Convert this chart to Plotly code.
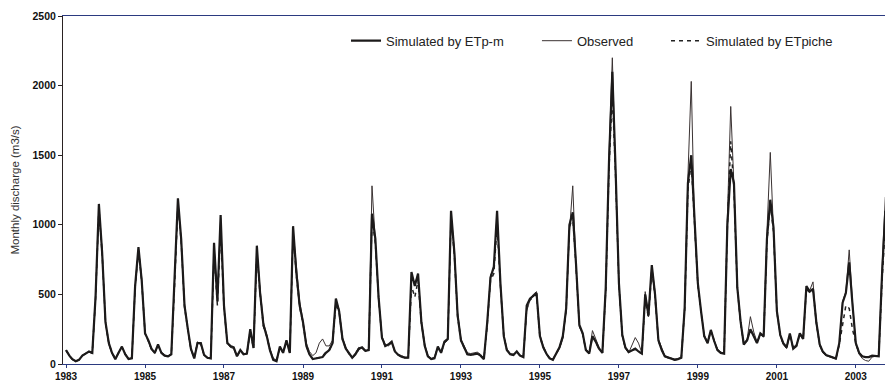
import pandas as pd
import plotly.graph_objects as go

# Monthly dates, Jan 1983 onward
months = pd.date_range("1983-01-01", periods=250, freq="MS")

sim_etpm = [
    100, 60, 35, 20, 30, 60, 75, 90, 80, 480, 1150, 800,
    300, 150, 80, 35, 80, 125, 70, 36, 40, 560, 840, 600,
    220, 170, 110, 80, 140, 80, 60, 55, 70, 580, 1190, 900,
    420, 250, 110, 40, 150, 150, 65, 45, 40, 870, 450, 1070,
    420, 150, 130, 120, 55, 100, 70, 75, 250, 115, 850, 510,
    280, 200, 100, 30, 20, 125, 80, 170, 80, 990, 650, 420,
    300, 130, 70, 35, 40, 40, 50, 80, 100, 150, 470, 380,
    180, 110, 75, 45, 70, 110, 120, 95, 100, 1080, 900, 480,
    190, 130, 140, 160, 90, 65, 53, 45, 45, 660, 560, 650,
    300, 130, 55, 35, 40, 125, 80, 160, 180, 1100, 800, 350,
    170, 110, 70, 65, 70, 75, 60, 35, 300, 620, 700, 1100,
    580, 200, 100, 70, 65, 90, 60, 50, 420, 470, 490, 510,
    200, 120, 75, 40, 30, 75, 120, 200, 400, 1000, 1090, 720,
    280, 220, 100, 75, 200, 160, 110, 80, 550, 1450, 2100, 1400,
    580, 210, 120, 85, 100, 110, 90, 75, 500, 350, 710, 500,
    170, 100, 55, 45, 40, 30, 35, 45, 400, 1300, 1500, 1060,
    580, 370, 200, 150, 245, 165, 100, 80, 75, 1000, 1400, 1300,
    550, 300, 140, 170, 250, 200, 150, 220, 200, 900, 1180, 980,
    380, 210, 150, 120, 220, 110, 130, 220, 180, 560, 520, 540,
    300, 140, 90, 65, 55, 45, 40, 150, 440, 510, 730, 430,
    150, 80, 55, 50, 50, 60, 55, 55, 650, 1100,
]

observed = [
    100, 55, 30, 18, 28, 58, 78, 85, 75, 460, 1100, 820,
    290, 140, 75, 35, 85, 125, 75, 36, 45, 540, 830, 620,
    230, 160, 100, 80, 130, 85, 65, 55, 75, 600, 1170, 880,
    430, 240, 100, 45, 160, 140, 60, 45, 45, 850, 480, 1050,
    400, 160, 120, 110, 60, 100, 75, 70, 230, 130, 820, 540,
    300, 210, 110, 40, 30, 120, 90, 160, 90, 960, 680, 450,
    310, 150, 90, 60, 80, 150, 180, 130, 130, 170, 460, 390,
    190, 120, 80, 50, 80, 120, 110, 90, 110, 1280, 880, 470,
    200, 140, 130, 150, 95, 70, 60, 50, 50, 640, 580, 640,
    310, 140, 60, 40, 50, 120, 90, 150, 170, 1080, 820, 370,
    180, 120, 80, 75, 80, 85, 70, 40, 280, 640, 680, 1080,
    560, 210, 110, 75, 70, 85, 65, 55, 380, 460, 500, 520,
    210, 130, 80, 45, 35, 70, 110, 180, 380, 950, 1280, 700,
    270, 210, 110, 80, 240, 180, 120, 85, 520, 1500, 2200, 1350,
    560, 200, 110, 80, 140, 190, 150, 80, 520, 340, 700, 520,
    180, 110, 60, 50, 42, 35, 38, 50, 420, 1350, 2030, 1000,
    560, 360, 210, 160, 240, 170, 110, 85, 80, 1050, 1850, 1280,
    540, 290, 150, 180, 340, 230, 160, 210, 210, 950, 1520, 950,
    370, 200, 140, 110, 210, 120, 140, 210, 190, 540, 530, 590,
    290, 130, 80, 60, 50, 40, 35, 140, 450, 520, 820, 450,
    140, 70, 40, 25, 20, 50, 55, 60, 700, 1200,
]

sim_etpiche = [
    100, 58, 33, 20, 30, 60, 75, 88, 80, 470, 1120, 790,
    300, 150, 80, 38, 80, 120, 70, 38, 42, 550, 820, 590,
    220, 165, 110, 80, 135, 80, 60, 55, 70, 560, 1150, 880,
    410, 245, 110, 42, 150, 145, 65, 45, 40, 800, 420, 980,
    400, 150, 125, 115, 55, 95, 70, 75, 240, 110, 800, 500,
    270, 195, 100, 32, 22, 120, 80, 165, 80, 940, 630, 410,
    290, 130, 70, 38, 42, 45, 55, 85, 100, 150, 430, 370,
    175, 110, 75, 45, 70, 105, 115, 95, 100, 1050, 870, 470,
    185, 128, 138, 155, 88, 65, 53, 45, 45, 560, 480, 600,
    290, 130, 55, 36, 42, 120, 80, 155, 175, 1050, 780, 340,
    165, 110, 70, 65, 70, 75, 60, 36, 280, 600, 650, 1000,
    560, 200, 100, 70, 65, 88, 60, 50, 400, 460, 480, 500,
    195, 120, 75, 40, 32, 75, 118, 195, 390, 980, 1060, 700,
    275, 215, 100, 75, 195, 158, 108, 80, 530, 1400, 1950, 1350,
    570, 205, 118, 85, 100, 108, 88, 75, 470, 330, 680, 480,
    168, 100, 55, 45, 40, 30, 35, 45, 390, 1250, 1450, 1020,
    570, 365, 200, 150, 240, 165, 100, 80, 75, 980, 1600, 1250,
    540, 295, 140, 170, 250, 200, 150, 215, 195, 880, 1150, 950,
    375, 205, 148, 120, 215, 110, 128, 215, 178, 540, 510, 530,
    295, 138, 90, 65, 55, 45, 40, 140, 300, 420, 400, 250,
    150, 80, 55, 50, 50, 60, 55, 55, 600, 1000,
]

tick_years = ["1983", "1985", "1987", "1989", "1991", "1993", "1995", "1997", "1999", "2001", "2003"]
tick_dates = [f"{y}-01-01" for y in tick_years]
y_ticks = [0, 500, 1000, 1500, 2000, 2500]

FONT = "Arial, Liberation Sans, sans-serif"

fig = go.Figure()
fig.add_trace(go.Scatter(
    x=months, y=observed, mode="lines", name="Observed",
    line=dict(color="#3a3232", width=1), legend="legend2",
))
fig.add_trace(go.Scatter(
    x=months, y=sim_etpiche, mode="lines", name="Simulated by ETpiche",
    line=dict(color="#222222", width=1.5, dash="4px,4px"), legend="legend3",
))
fig.add_trace(go.Scatter(
    x=months, y=sim_etpm, mode="lines", name="Simulated by ETp-m",
    line=dict(color="#1c1a1a", width=2.2), legend="legend",
))

leg_common = dict(
    orientation="h", yanchor="top", xanchor="left", y=0.972,
    font=dict(size=13, color="#222"), bgcolor="rgba(0,0,0,0)",
)

fig.update_layout(
    width=885, height=382,
    margin=dict(l=63, r=0, t=16, b=18, autoexpand=False),
    paper_bgcolor="white", plot_bgcolor="white",
    font=dict(family=FONT, color="#222"),
    showlegend=True,
    legend=dict(x=0.3443, **leg_common),
    legend2=dict(x=0.5766, **leg_common),
    legend3=dict(x=0.7336, **leg_common),
    xaxis=dict(
        type="date", automargin=False,
        range=["1982-12-04", "2003-09-28"],
        tickvals=tick_dates, ticktext=tick_years,
        tickfont=dict(size=10, color="#111", weight="bold"),
        showgrid=False, zeroline=False,
        showline=True, linecolor="#2b3a80", linewidth=1, mirror=True,
        ticks="outside", ticklen=3, tickcolor="#2b3a80",
    ),
    yaxis=dict(
        range=[0, 2500], tickvals=y_ticks, automargin=False,
        tickfont=dict(size=10.5, color="#111", weight="bold"),
        showgrid=False, zeroline=False,
        showline=True, linecolor="#2a2222", linewidth=1,
        ticks="outside", ticklen=4, tickcolor="#2a2222",
        title=dict(text="Monthly discharge (m3/s)", font=dict(size=11.5, color="#333"), standoff=10),
    ),
)

fig.write_html(
    "out.html",
    config={"displayModeBar": False},
    post_script="document.body.style.margin='0';document.body.style.overflow='hidden';",
)
